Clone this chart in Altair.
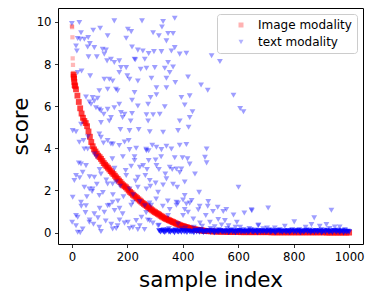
import altair as alt
import pandas as pd

# ---- Image modality (sorted scores) ----
red_x = [0, 1, 2, 3, 4, 5, 6, 7, 8, 9, 10, 12, 15] + list(range(20, 481, 5)) + list(range(490, 1001, 10))
red_y = [9.8, 9.75, 9.27, 8.27, 7.96, 7.58, 7.5, 7.4, 7.3, 7.15, 7.0, 6.95, 6.8,
         6.5, 6.2, 5.9, 5.65, 5.45, 5.3, 5.2, 5.05, 4.8, 4.55,
         4.3, 4.1, 3.95, 3.85, 3.75, 3.65, 3.58, 3.5, 3.4, 3.3,
         3.22, 3.15, 3.08, 3.0, 2.92, 2.85, 2.78, 2.7, 2.62, 2.55,
         2.47, 2.4, 2.32, 2.25, 2.2, 2.15, 2.08, 2.0, 1.93, 1.87,
         1.8, 1.75, 1.7, 1.64, 1.58, 1.52, 1.47, 1.41, 1.36, 1.31,
         1.26, 1.21, 1.16, 1.11, 1.06, 1.01, 0.97, 0.93, 0.89, 0.85,
         0.8, 0.76, 0.72, 0.68, 0.65, 0.62, 0.59, 0.56, 0.53, 0.5,
         0.47, 0.44, 0.41, 0.38, 0.35, 0.33, 0.31, 0.29, 0.27, 0.25,
         0.23, 0.21, 0.19, 0.17, 0.16, 0.15, 0.14, 0.13, 0.12, 0.11,
         0.1, 0.09, 0.08,
         0.07, 0.06, 0.05, 0.05, 0.04, 0.04, 0.04, 0.03, 0.03, 0.03,
         0.03, 0.03, 0.02, 0.02, 0.02, 0.02, 0.02, 0.02, 0.02, 0.02,
         0.02, 0.02, 0.02, 0.01, 0.01, 0.01, 0.01, 0.01, 0.01, 0.01,
         0.01, 0.01, 0.01, 0.01, 0.01, 0.01, 0.01, 0.01, 0.01, 0.01,
         0.01, 0.01, 0.01, 0.0, 0.0, 0.0, 0.0, 0.0, 0.0, 0.0,
         0.0, 0.0]
HEAD = 6  # first few isolated (pale) samples

# ---- text modality: scattered points (x, y) ----
text_pts = [
    (0, 9.92), (27, 9.97), (33, 9.49), (21, 9.21), (30, 9.18), (45, 9.18), (59, 9.26), (65, 8.97), (77, 9.6),
    (102, 9.7), (153, 10.05), (129, 9.34), (15, 8.86), (18, 8.62), (57, 8.81), (81, 8.78), (111, 8.7),
    (123, 8.66), (117, 8.47), (90, 8.34), (60, 8.34), (141, 8.23), (127, 8.15), (153, 8.07), (171, 8.15),
    (177, 7.83), (171, 7.6), (66, 7.44), (35, 7.67), (21, 7.6), (117, 7.28), (135, 7.28), (147, 7.2),
    (129, 6.8), (159, 6.8), (165, 6.73), (99, 6.73), (51, 6.44), (75, 6.41), (93, 6.38), (81, 6.25),
    (63, 6.2), (69, 6.09), (87, 5.93), (99, 5.85), (105, 5.78), (129, 5.85), (153, 5.93), (171, 6.09),
    (177, 5.7), (183, 5.46), (115, 5.62), (141, 5.46), (135, 5.3), (105, 5.22), (33, 5.14),
    (253, 10.05), (329, 10.02), (371, 10.17), (325, 9.76), (202, 9.65), (214, 9.54), (196, 9.22),
    (293, 9.49), (314, 9.34), (347, 9.45), (365, 9.45), (341, 9.1), (217, 8.81), (238, 8.66), (256, 8.62),
    (277, 8.5), (296, 8.59), (323, 8.59), (371, 8.78), (359, 8.62), (389, 8.47), (413, 8.51), (226, 8.23),
    (229, 8.2), (263, 8.23), (248, 7.75), (269, 7.8), (299, 7.83), (335, 7.8), (365, 7.86), (347, 8.07),
    (353, 7.6), (238, 7.2), (287, 7.33), (341, 7.33), (373, 7.12), (419, 7.39), (305, 6.88), (341, 6.88),
    (226, 6.65), (217, 6.28), (284, 6.41), (305, 6.54), (395, 6.41), (425, 6.49), (238, 6.01), (275, 6.09),
    (335, 5.97), (407, 6.06), (190, 5.62), (217, 5.65), (269, 5.59), (293, 5.59), (317, 5.62), (389, 5.3),
    (425, 5.46), (275, 5.3), (212, 5.3), (196, 7.83), (200, 7.44), (208, 7.28),
    (504, 8.39), (534, 8.12), (466, 7.01), (490, 6.76), (583, 6.52), (607, 5.89), (619, 5.74), (435, 5.74),
    (3, 4.84), (15, 4.79), (27, 4.29), (42, 4.37), (57, 3.97), (45, 3.97), (99, 4.68), (105, 4.52),
    (129, 4.37), (141, 4.21), (175, 4.89), (171, 4.13), (81, 3.73), (33, 3.26), (51, 3.18), (39, 2.86),
    (15, 2.71), (81, 2.63), (105, 2.78), (129, 2.31), (147, 2.31), (9, 2.47), (45, 2.15), (63, 2.07),
    (75, 2.07), (99, 1.76), (3, 1.68), (33, 1.44), (51, 1.28), (129, 1.28), (147, 1.44), (117, 0.97),
    (81, 0.89), (15, 0.81), (21, 0.73), (1, 0.49), (39, 0.17), (15, 0.33), (63, 0.49), (99, 0.25),
    (105, 0.05), (147, 0.17), (165, 0.33), (21, 0.02), (30, 0.0), (183, 0.89),
    (208, 4.84), (241, 4.89), (281, 4.79), (329, 4.76), (383, 4.84), (421, 5.0), (205, 4.37), (208, 3.94),
    (269, 3.89), (277, 3.89), (305, 4.05), (323, 3.94), (359, 3.97), (413, 4.18), (226, 3.42), (245, 3.1),
    (257, 3.18), (277, 3.42), (305, 3.18), (353, 3.1), (377, 3.02), (395, 3.02), (417, 3.5), (238, 2.63),
    (265, 2.71), (281, 2.47), (337, 2.78), (341, 2.55), (329, 2.26), (380, 2.15), (196, 2.71), (208, 2.07),
    (238, 2.15), (269, 2.07), (311, 1.91), (407, 1.76), (377, 1.44), (413, 1.36), (220, 1.44), (245, 1.47),
    (263, 1.28), (202, 0.49), (232, 0.57), (251, 0.73), (281, 0.57), (311, 0.33), (347, 0.81), (383, 0.41),
    (401, 0.81), (419, 0.97), (245, 0.33),
    (486, 3.97), (480, 3.57), (486, 3.31), (444, 2.78), (601, 2.15), (459, 1.91), (432, 1.52), (492, 1.47),
    (490, 1.25), (526, 1.2), (456, 1.09), (546, 1.0), (583, 0.84), (622, 0.93), (649, 1.04), (483, 0.81),
    (528, 0.62), (552, 0.57), (438, 0.65), (595, 0.49), (673, 0.36), (498, 0.49), (462, 0.46), (540, 0.36),
    (565, 0.33), (607, 0.25),
    (648, 1.09), (708, 1.17), (802, 0.51), (874, 0.7), (936, 1.06), (768, 0.3), (843, 0.25), (864, 0.38),
    (918, 0.38), (948, 0.27), (966, 0.27), (894, 0.3), (704, 0.22), (672, 0.33), (732, 0.22),
    (330, 0.15), (350, 0.2), (372, 0.12), (395, 0.18), (410, 0.22), (440, 0.25), (455, 0.15), (470, 0.3),
    (500, 0.2), (515, 0.28), (530, 0.15), (560, 0.2), (575, 0.12), (590, 0.25), (620, 0.15), (640, 0.2),
    (660, 0.12), (690, 0.18), (720, 0.12), (750, 0.15), (780, 0.1), (820, 0.15), (860, 0.12), (900, 0.15),
    (930, 0.2), (960, 0.12), (985, 0.15),
    (64, 0.6), (78, 0.4), (94, 0.7), (122, 0.55), (142, 0.4), (160, 0.2), (172, 0.6), (190, 0.45),
    (208, 0.2), (220, 0.25), (238, 0.15), (262, 0.15), (274, 0.6), (292, 0.45), (314, 0.35),
    (28, 2.6), (64, 2.65), (90, 2.3), (124, 2.5), (160, 2.4), (174, 2.2), (230, 2.45), (283, 2.2),
    (302, 2.35), (365, 2.3), (407, 2.4), (54, 1.7), (73, 1.95), (112, 1.9), (148, 1.8), (166, 1.5),
    (186, 1.7), (221, 1.8), (280, 1.4), (304, 1.6), (346, 1.5), (383, 1.4), (401, 1.55), (425, 1.4),
    (461, 1.25), (34, 1.25), (49, 0.95), (100, 1.15), (136, 1.3), (154, 1.05), (172, 1.15), (214, 1.3),
    (268, 0.95), (286, 1.3), (328, 1.25), (353, 1.1), (377, 1.3), (407, 1.1), (509, 1.0), (557, 1.1),
    (58, 4.55), (114, 4.25), (148, 4.2), (190, 4.3), (232, 4.0), (268, 3.95), (290, 4.15), (341, 4.1),
    (389, 4.15), (88, 3.6), (146, 3.5), (184, 3.6), (226, 3.6), (302, 3.45), (322, 3.6), (371, 3.55),
    (399, 3.55), (425, 3.25), (25, 3.3), (100, 3.0), (154, 3.05), (194, 2.95), (214, 3.15), (271, 3.0),
    (314, 3.0), (362, 3.0), (389, 2.85),
]
text_x = [p[0] for p in text_pts]
text_y = [p[1] for p in text_pts]

# dense near-zero band of the text modality (sample index 315..1000)
band_y = [0.08, 0.03, 0.1, 0.05, 0.01, 0.07, 0.12, 0.04, 0.02, 0.09, 0.06, 0.0, 0.11, 0.05, 0.03, 0.08, 0.02, 0.1, 0.04, 0.07, 0.01, 0.09, 0.05,
          0.03, 0.06, 0.0, 0.1, 0.04, 0.08, 0.02, 0.12, 0.05, 0.01, 0.07, 0.03, 0.09, 0.06, 0.02, 0.11, 0.04, 0.0, 0.08, 0.05, 0.03, 0.1, 0.06,
          0.02, 0.07, 0.04, 0.09, 0.01, 0.05, 0.11, 0.03, 0.06, 0.0, 0.08, 0.04, 0.1, 0.02, 0.07, 0.05, 0.03, 0.09, 0.01, 0.06, 0.12, 0.04, 0.02,
          0.08, 0.05, 0.0, 0.1, 0.03, 0.07, 0.04, 0.09, 0.02, 0.06, 0.11, 0.01, 0.05, 0.08, 0.03, 0.0, 0.07, 0.1, 0.04, 0.06, 0.02, 0.09, 0.05,
          0.03, 0.08, 0.01, 0.06, 0.12, 0.04, 0.07, 0.02, 0.1, 0.05, 0.0, 0.09, 0.03, 0.06, 0.11, 0.04, 0.08, 0.01, 0.05, 0.07, 0.02, 0.1, 0.03,
          0.06, 0.09, 0.0, 0.04, 0.08, 0.02, 0.11, 0.05, 0.03, 0.07, 0.01, 0.1, 0.06, 0.04, 0.09, 0.02, 0.05, 0.08, 0.0, 0.07, 0.03, 0.06, 0.04]
band_x = list(range(315, 315 + 5 * len(band_y), 5))

labels = ["Image modality", "text modality"]
x_ticks = [0, 200, 400, 600, 800, 1000]
y_ticks = [0, 2, 4, 6, 8, 10]

red_head = pd.DataFrame({"x": red_x[:HEAD], "y": red_y[:HEAD], "modality": labels[0]})
red_body = pd.DataFrame({"x": red_x[HEAD:], "y": red_y[HEAD:], "modality": labels[0]})
blue_sc = pd.DataFrame({"x": text_x, "y": text_y, "modality": labels[1]})
blue_band = pd.DataFrame({"x": band_x, "y": band_y, "modality": labels[1]})

enc = dict(
    x=alt.X("x:Q", scale=alt.Scale(domain=[-50, 1050], nice=False, zero=False),
            axis=alt.Axis(values=x_ticks, title="sample index", format="d")),
    y=alt.Y("y:Q", scale=alt.Scale(domain=[-0.54, 10.66], nice=False, zero=False),
            axis=alt.Axis(values=y_ticks, title="score", format="d")),
    color=alt.Color("modality:N", scale=alt.Scale(domain=labels, range=["red", "blue"]), title=None),
    shape=alt.Shape("modality:N", scale=alt.Scale(domain=labels, range=["square", "triangle-down"]), title=None),
)

l1 = alt.Chart(red_head).mark_point(filled=True, strokeWidth=0, opacity=0.28, size=18).encode(**enc)
l2 = alt.Chart(red_body).mark_point(filled=True, strokeWidth=0, opacity=0.75, size=34).encode(**enc)
l3 = alt.Chart(blue_sc).mark_point(filled=True, strokeWidth=0, opacity=0.38, size=34).encode(**enc)
l4 = alt.Chart(blue_band).mark_point(filled=True, strokeWidth=0, opacity=0.75, size=36).encode(**enc)

chart = alt.layer(l1, l2, l3, l4).properties(
    width=305, height=236,
    autosize="none",
    padding={"left": 50, "top": 0, "right": 3, "bottom": 47},
).configure_view(
    stroke="black", strokeWidth=1
).configure_axis(
    grid=False, domain=False,
    labelFont="DejaVu Sans", labelFontSize=11.7, labelColor="black",
    tickColor="black", tickSize=3.5, tickWidth=0.8, labelPadding=3.5,
    titleFont="DejaVu Sans", titleFontSize=21.5, titleFontWeight="normal", titleColor="black",
).configure_axisX(
    titlePadding=7
).configure_axisY(
    titlePadding=4
).configure_legend(
    orient="top-right", offset=6, padding=5,
    strokeColor="#cccccc", fillColor="white", cornerRadius=3,
    labelFont="DejaVu Sans", labelFontSize=12, labelColor="black",
    rowPadding=5, symbolOffset=13, labelOffset=11,
    symbolOpacity=0.3, symbolSize=25, symbolStrokeWidth=0,
)

chart.save("out.html", embed_options={"renderer": "svg", "actions": False})
